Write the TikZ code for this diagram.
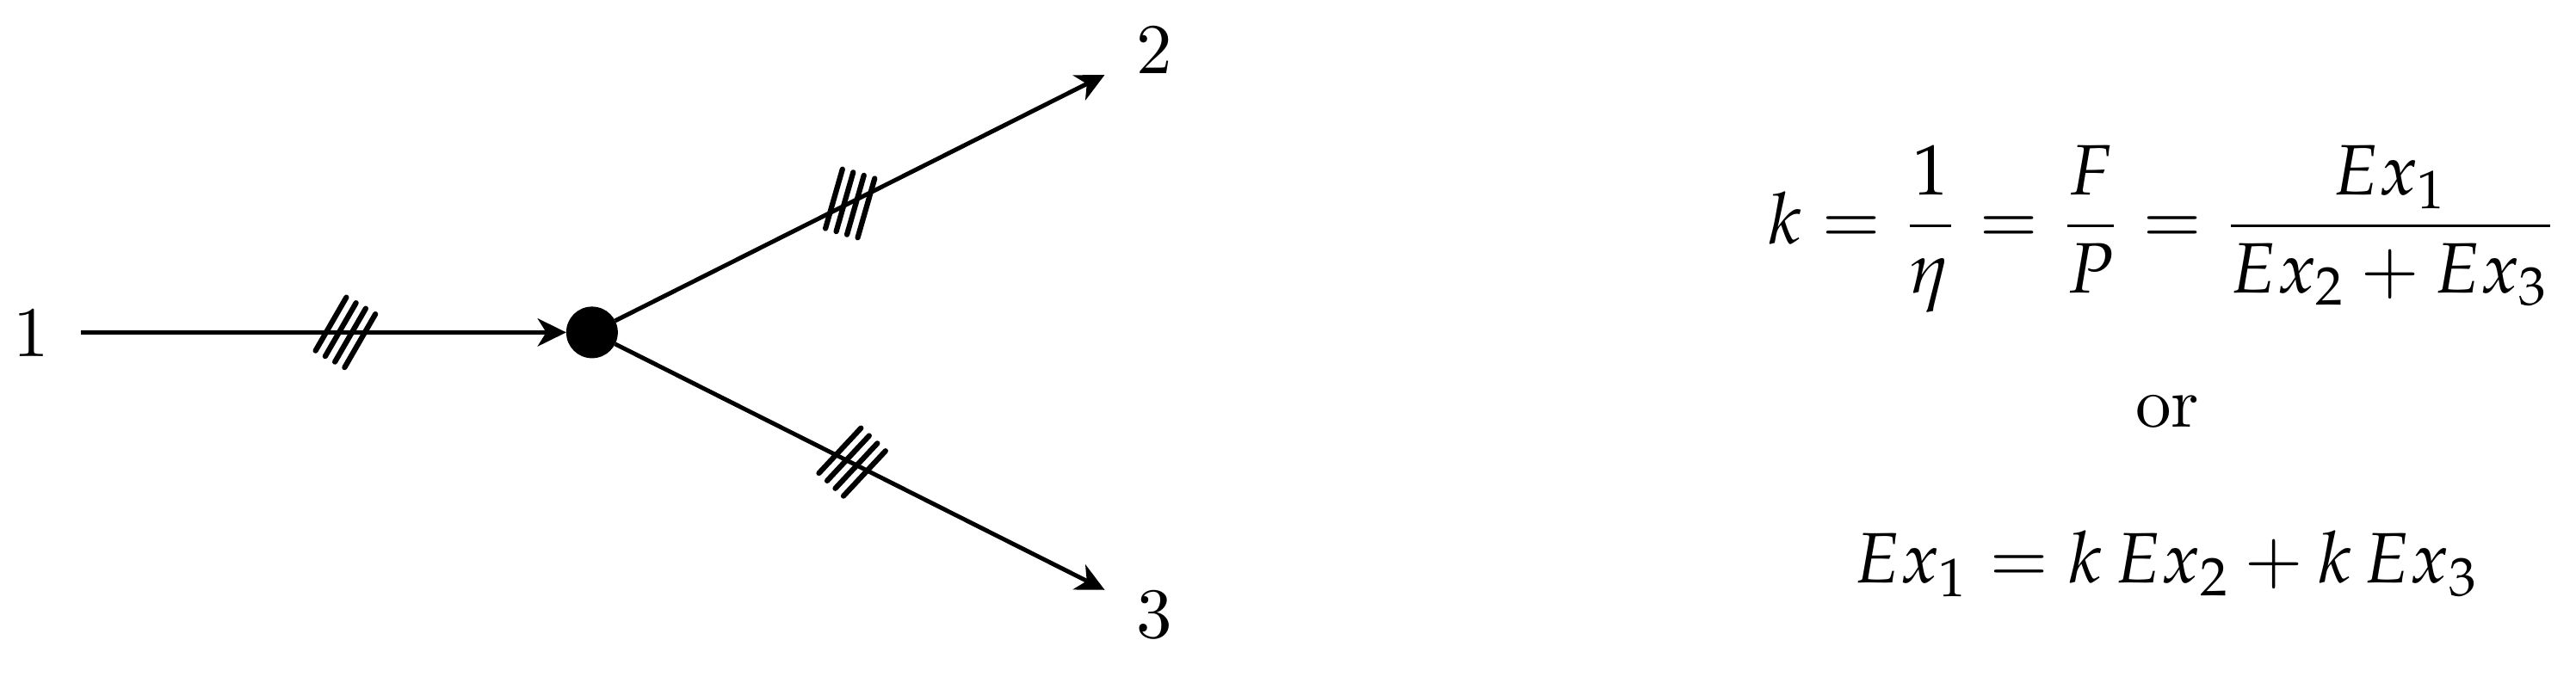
\documentclass[tikz,border=0pt]{standalone}
\usepackage{mathpazo}
\usetikzlibrary{arrows.meta}
\tikzset{
  port/.style={inner sep=4.4pt,outer sep=0pt},
  junction/.style={circle,fill,inner sep=0pt,outer sep=0pt,minimum size=7.2bp},
  tally/.style={line width=0.75pt,line cap=round},
}
\begin{document}
\begin{tikzpicture}[>={Stealth[length=4pt,width=3.9pt,inset=1.2pt]},line width=0.6pt,line join=bevel]
\useasboundingbox (0bp,0bp) rectangle (359.4bp,94.4bp);
%%
  \node (p1) at (4.4bp,48bp) [port] {1};
  \node (jn) at (82.6bp,48bp) [junction] {};
  \node (p2) at (161bp,87.4bp) [port] {2};
  \node (p3) at (161bp,8.6bp) [port] {3};
  \draw [->] (p1) -- (jn);
  \draw [->] (jn) -- (p2);
  \draw [->] (jn) -- (p3);
%% tally marks on the streams
\begin{scope}[shift={(48.2bp,48bp)},rotate=60]
  \draw [tally] (-4.3bp,-2.34bp) -- (4.3bp,-2.34bp);
  \draw [tally] (-4.3bp,-0.78bp) -- (4.3bp,-0.78bp);
  \draw [tally] (-4.3bp,0.78bp) -- (4.3bp,0.78bp);
  \draw [tally] (-4.3bp,2.34bp) -- (4.3bp,2.34bp);
\end{scope}
\begin{scope}[shift={(118.6bp,66bp)},rotate=74]
  \draw [tally] (-4.3bp,-2.34bp) -- (4.3bp,-2.34bp);
  \draw [tally] (-4.3bp,-0.78bp) -- (4.3bp,-0.78bp);
  \draw [tally] (-4.3bp,0.78bp) -- (4.3bp,0.78bp);
  \draw [tally] (-4.3bp,2.34bp) -- (4.3bp,2.34bp);
\end{scope}
\begin{scope}[shift={(118.9bp,29.9bp)},rotate=47]
  \draw [tally] (-4.3bp,-2.34bp) -- (4.3bp,-2.34bp);
  \draw [tally] (-4.3bp,-0.78bp) -- (4.3bp,-0.78bp);
  \draw [tally] (-4.3bp,0.78bp) -- (4.3bp,0.78bp);
  \draw [tally] (-4.3bp,2.34bp) -- (4.3bp,2.34bp);
\end{scope}
%% efficiency relations
  \node (keq) at (301.8bp,60.4bp) [anchor=base] {$\displaystyle k=\frac{1}{\eta}=\frac{F}{P}=\frac{Ex_1}{Ex_2+Ex_3}$};
  \node (ortxt) at (302.4bp,34.8bp) [anchor=base] {or};
  \node (exeq) at (302.3bp,13bp) [anchor=base] {$Ex_1=k\,Ex_2+k\,Ex_3$};
%
\end{tikzpicture}
\end{document}
